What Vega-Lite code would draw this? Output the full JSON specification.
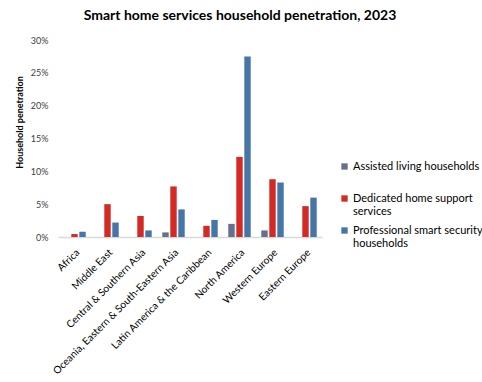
{
  "$schema": "https://vega.github.io/schema/vega-lite/v6.json",
  "autosize": {"type": "none"},
  "padding": {"left": 58, "top": 40, "right": 160, "bottom": 145},
  "width": 264,
  "height": 197,
  "background": "white",
  "config": {"view": {"stroke": null}, "font": "Lato"},
  "title": {
    "text": "Smart home services household penetration, 2023",
    "font": "Lato", "fontSize": 14, "fontWeight": "bold", "color": "#000000",
    "anchor": "middle", "dx": 50, "offset": 13
  },
  "data": {
    "values": [
      {"region": "Africa", "series": "Dedicated home support services", "value": 0.0045},
      {"region": "Africa", "series": "Professional smart security households", "value": 0.008},
      {"region": "Middle East", "series": "Dedicated home support services", "value": 0.050},
      {"region": "Middle East", "series": "Professional smart security households", "value": 0.022},
      {"region": "Central & Southern Asia", "series": "Dedicated home support services", "value": 0.032},
      {"region": "Central & Southern Asia", "series": "Professional smart security households", "value": 0.010},
      {"region": "Oceania, Eastern & South-Eastern Asia", "series": "Assisted living households", "value": 0.007},
      {"region": "Oceania, Eastern & South-Eastern Asia", "series": "Dedicated home support services", "value": 0.077},
      {"region": "Oceania, Eastern & South-Eastern Asia", "series": "Professional smart security households", "value": 0.042},
      {"region": "Latin America & the Caribbean", "series": "Dedicated home support services", "value": 0.017},
      {"region": "Latin America & the Caribbean", "series": "Professional smart security households", "value": 0.026},
      {"region": "North America", "series": "Assisted living households", "value": 0.020},
      {"region": "North America", "series": "Dedicated home support services", "value": 0.122},
      {"region": "North America", "series": "Professional smart security households", "value": 0.275},
      {"region": "Western Europe", "series": "Assisted living households", "value": 0.010},
      {"region": "Western Europe", "series": "Dedicated home support services", "value": 0.088},
      {"region": "Western Europe", "series": "Professional smart security households", "value": 0.083},
      {"region": "Eastern Europe", "series": "Dedicated home support services", "value": 0.047},
      {"region": "Eastern Europe", "series": "Professional smart security households", "value": 0.060}
    ]
  },
  "mark": {"type": "bar"},
  "encoding": {
    "x": {
      "field": "region", "type": "nominal",
      "sort": ["Africa", "Middle East", "Central & Southern Asia", "Oceania, Eastern & South-Eastern Asia", "Latin America & the Caribbean", "North America", "Western Europe", "Eastern Europe"],
      "scale": {"paddingInner": 0.32, "paddingOuter": 0.16},
      "axis": {
        "title": null, "labelAngle": -45, "labelFontSize": 10.2, "labelColor": "#000000",
        "ticks": false, "domainColor": "#D9D9D9", "domainWidth": 1.5, "labelPadding": 10, "labelLimit": 300
      }
    },
    "xOffset": {
      "field": "series", "type": "nominal",
      "sort": ["Assisted living households", "Dedicated home support services", "Professional smart security households"],
      "scale": {"paddingInner": 0.2}
    },
    "y": {
      "field": "value", "type": "quantitative",
      "scale": {"domain": [0, 0.3], "nice": false},
      "axis": {
        "title": "Household penetration", "titleFontSize": 9, "titleFontWeight": "bold", "titleColor": "#000000",
        "titleX": -34, "titleY": 82,
        "values": [0, 0.05, 0.1, 0.15, 0.2, 0.25, 0.3], "format": ".0%",
        "grid": false, "domain": false, "ticks": false, "labelPadding": 10,
        "labelFontSize": 9, "labelColor": "#404040"
      }
    },
    "color": {
      "field": "series", "type": "nominal",
      "sort": ["Assisted living households", "Dedicated home support services", "Professional smart security households"],
      "scale": {"range": ["#687089", "#D42A24", "#4675A8"]},
      "legend": {
        "title": null, "orient": "none", "legendX": 281, "legendY": 121,
        "symbolType": "square", "symbolSize": 40, "symbolStrokeWidth": 0,
        "labelFontSize": 11, "labelColor": "#000000", "labelOffset": 3, "labelLimit": 200,
        "rowPadding": 7, "padding": 0,
        "labelExpr": "datum.label == 'Dedicated home support services' ? ['Dedicated home support', 'services'] : datum.label == 'Professional smart security households' ? ['Professional smart security', 'households'] : [datum.label, '']"
      }
    }
  }
}
